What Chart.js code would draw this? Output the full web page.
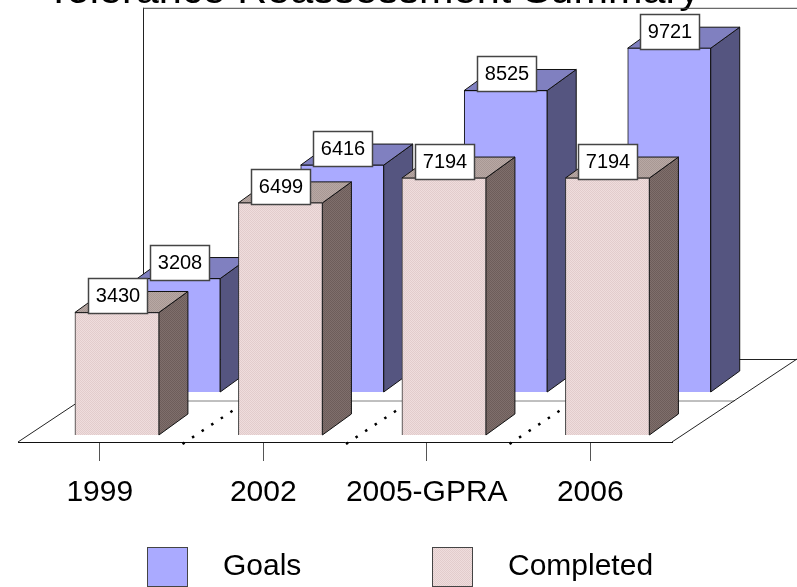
<!DOCTYPE html>
<html>
<head>
<meta charset="utf-8">
<title>Tolerance Reassessment Summary</title>
<script src="https://cdn.jsdelivr.net/npm/chart.js@4"></script>
<style>
  html, body { margin: 0; padding: 0; background: #fff; overflow: hidden; }
  #chart { display: block; }
</style>
</head>
<body>
<canvas id="chart" width="797" height="587"></canvas>
<script>
const categories = ['1999', '2002', '2005-GPRA', '2006'];
const goals = [3208, 6416, 8525, 9721];
const completed = [3430, 6499, 7194, 7194];

const barDepthX = 29, barDepthY = 21;
const floorDepthX = 125, floorDepthY = 83;
const fontName = '"Liberation Sans", Arial, sans-serif';

// dithered fill like the original picture
function dither(c1, c2) {
    const c = document.createElement('canvas');
    c.width = 2; c.height = 2;
    const g = c.getContext('2d');
    g.fillStyle = c1; g.fillRect(0, 0, 2, 2);
    g.fillStyle = c2; g.fillRect(0, 0, 1, 1); g.fillRect(1, 1, 1, 1);
    return g.createPattern(c, 'repeat');
}

const goalFill = { front: '#aaaaff', top: '#8080c0', side: '#555580' };
const doneFill = {
    front: dither('#efdddd', '#e2cccc'),
    top: dither('#b8a8a4', '#a89894'),
    side: dither('#7f6f6c', '#6d5d5a')
};

function line(ctx, x1, y1, x2, y2, color) {
    ctx.strokeStyle = color;
    ctx.beginPath();
    ctx.moveTo(x1, y1);
    ctx.lineTo(x2, y2);
    ctx.stroke();
}

// back wall, floor and the dotted category lines
const floorPlugin = {
    id: 'floor',
    // title in the original sits right of the plot centre
    afterLayout(chart) {
        chart.titleBlock.left += 28;
        chart.titleBlock.right += 28;
    },
    beforeDatasetsDraw(chart) {
        const { ctx, chartArea: a, scales: { x } } = chart;
        const left = a.left, right = a.right, bottom = a.bottom;
        ctx.save();
        ctx.lineWidth = 1;
        line(ctx, left + floorDepthX + 0.5, a.top, left + floorDepthX + 0.5, bottom - floorDepthY, '#222');
        line(ctx, left + floorDepthX, a.top + 0.5, right + floorDepthX, a.top + 0.5, '#444');
        line(ctx, left + floorDepthX, bottom - floorDepthY + 0.5, right + floorDepthX, bottom - floorDepthY + 0.5, '#222');
        line(ctx, left + floorDepthX / 2, bottom - floorDepthY / 2 + 0.5, right + floorDepthX / 2, bottom - floorDepthY / 2 + 0.5, '#808080');
        line(ctx, left, bottom, left + floorDepthX, bottom - floorDepthY, '#222');
        line(ctx, right, bottom, right + floorDepthX, bottom - floorDepthY, '#222');
        ctx.lineWidth = 2.5;
        ctx.setLineDash([2.5, 9]);
        for (let i = 1; i < categories.length; i++) {
            const px = (x.getPixelForTick(i - 1) + x.getPixelForTick(i)) / 2 + 1;
            line(ctx, px, bottom + 2, px + floorDepthX, bottom + 2 - floorDepthY, '#000');
        }
        ctx.restore();
    },
    // side and top faces go under the front of each bar
    beforeDatasetDraw(chart, args) {
        const { ctx } = chart;
        const fill = args.index === 0 ? goalFill : doneFill;
        ctx.save();
        ctx.lineWidth = 1;
        ctx.strokeStyle = '#111';
        args.meta.data.forEach(bar => {
            const l = bar.x - bar.width / 2, r = bar.x + bar.width / 2;
            ctx.fillStyle = fill.side;
            ctx.beginPath();
            ctx.moveTo(r, bar.y);
            ctx.lineTo(r + barDepthX, bar.y - barDepthY);
            ctx.lineTo(r + barDepthX, bar.base - barDepthY);
            ctx.lineTo(r, bar.base);
            ctx.closePath();
            ctx.fill(); ctx.stroke();
            ctx.fillStyle = fill.top;
            ctx.beginPath();
            ctx.moveTo(l, bar.y);
            ctx.lineTo(l + barDepthX, bar.y - barDepthY);
            ctx.lineTo(r + barDepthX, bar.y - barDepthY);
            ctx.lineTo(r, bar.y);
            ctx.closePath();
            ctx.fill(); ctx.stroke();
        });
        ctx.restore();
    },
    // value boxes sit over the top of each bar
    afterDatasetsDraw(chart) {
        const { ctx } = chart;
        ctx.save();
        ctx.font = '20px ' + fontName;
        ctx.textAlign = 'center';
        ctx.textBaseline = 'middle';
        chart.data.datasets.forEach((ds, d) => {
            chart.getDatasetMeta(d).data.forEach((bar, i) => {
                const bx = Math.round(bar.x - 29) + 0.5;
                const by = Math.round(bar.y - 34) + 0.5;
                ctx.fillStyle = '#fff';
                ctx.strokeStyle = '#444';
                ctx.lineWidth = 1.5;
                ctx.fillRect(bx, by, 59, 35);
                ctx.strokeRect(bx, by, 59, 35);
                ctx.fillStyle = '#000';
                ctx.fillText(String(ds.data[i].y), bx + 29.5, by + 18);
            });
        });
        ctx.restore();
    }
};

// legend is spaced wider than the built-in one allows
const legendPlugin = {
    id: 'wideLegend',
    afterDraw(chart) {
        const { ctx } = chart;
        const spots = [147, 432];
        ctx.save();
        ctx.font = '30px ' + fontName;
        ctx.textBaseline = 'middle';
        chart.data.datasets.forEach((ds, d) => {
            ctx.fillStyle = ds.backgroundColor;
            ctx.strokeStyle = '#444';
            ctx.lineWidth = 1;
            ctx.fillRect(spots[d] + 0.5, 547.5, 40, 39);
            ctx.strokeRect(spots[d] + 0.5, 547.5, 40, 39);
            ctx.fillStyle = '#000';
            ctx.fillText(ds.label, spots[d] + 76, 567);
        });
        ctx.restore();
    }
};

new Chart(document.getElementById('chart'), {
    type: 'bar',
    data: {
        labels: categories,
        datasets: [
            {
                label: 'Goals',
                data: goals.map((v, i) => ({ x: i, y: v })),
                backgroundColor: goalFill.front,
                borderColor: '#111',
                borderWidth: 1,
                barThickness: 83,
                grouped: false,
                clip: false,
                xAxisID: 'xBack',
                yAxisID: 'yBack',
                order: 2
            },
            {
                label: 'Completed',
                data: completed.map((v, i) => ({ x: i, y: v })),
                backgroundColor: doneFill.front,
                borderColor: '#333',
                borderWidth: 1,
                barThickness: 84,
                grouped: false,
                clip: false,
                xAxisID: 'xFront',
                yAxisID: 'yFront',
                order: 1
            }
        ]
    },
    options: {
        responsive: false,
        animation: false,
        layout: { padding: { left: 18, right: 125, top: 0, bottom: 62 } },
        plugins: {
            legend: { display: false },
            tooltip: { enabled: false },
            title: {
                display: true,
                text: 'Tolerance Reassessment Summary',
                color: '#000',
                font: { family: fontName, size: 41.5, weight: 'normal' },
                padding: { top: -33, bottom: -9 }
            }
        },
        scales: {
            x: {
                type: 'category',
                labels: categories,
                offset: true,
                border: { color: '#111', width: 1 },
                grid: { offset: false, drawOnChartArea: false, tickLength: 19, color: '#555' },
                ticks: { color: '#000', font: { family: fontName, size: 30 }, padding: 14, maxRotation: 0, autoSkip: false }
            },
            xFront: { type: 'linear', display: false, offset: false, min: -0.605, max: 3.395 },
            xBack: { type: 'linear', display: false, offset: false, min: -0.983, max: 3.017 },
            yFront: { display: false, min: -196, max: 11961 },
            yBack: { display: false, min: -1414, max: 10863 }
        }
    },
    plugins: [floorPlugin, legendPlugin]
});
</script>
</body>
</html>
